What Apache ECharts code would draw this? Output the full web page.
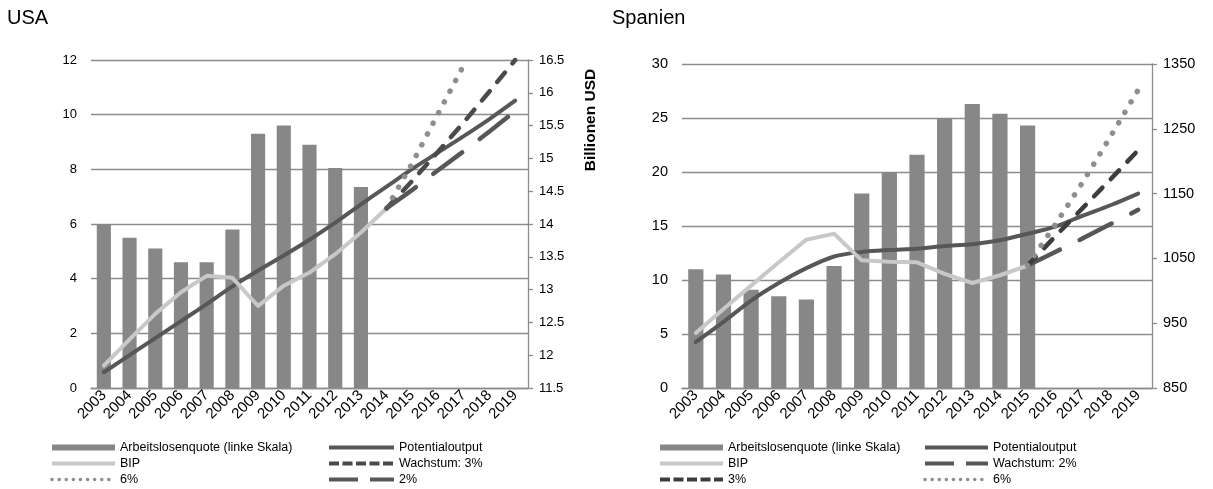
<!DOCTYPE html>
<html>
<head>
<meta charset="utf-8">
<script src="https://cdn.jsdelivr.net/npm/echarts@6/dist/echarts.min.js"></script>
<style>
  html, body { margin: 0; padding: 0; background: #fff; }
  #chart { width: 1213px; height: 489px; }
</style>
</head>
<body>
<div id="chart"></div>
<script>
const years = ['2003', '2004', '2005', '2006', '2007', '2008', '2009', '2010', '2011',
  '2012', '2013', '2014', '2015', '2016', '2017', '2018', '2019'];

// USA – Arbeitslosenquote (%) links, BIP in Billionen USD rechts
const usaArbeitslos = [6.0, 5.5, 5.1, 4.6, 4.6, 5.8, 9.3, 9.6, 8.9, 8.05, 7.35, null, null, null, null, null, null];
const usaPotential = [11.74, 12.0, 12.26, 12.52, 12.78, 13.05, 13.29, 13.52, 13.76, 14.02, 14.3, 14.57, 14.84, 15.09, 15.34, 15.6, 15.88];
const usaBip = [11.84, 12.24, 12.63, 12.96, 13.21, 13.18, 12.75, 13.06, 13.26, 13.54, 13.87, 14.24, null, null, null, null, null];
const usaW3 = [null, null, null, null, null, null, null, null, null, null, null, 14.24, 14.66, 15.1, 15.55, 16.02, 16.5];
const usaW6 = [null, null, null, null, null, null, null, null, null, null, null, 14.24, 14.93, 15.68, 16.42, null, null];
const usaW2 = [null, null, null, null, null, null, null, null, null, null, null, 14.24, 14.52, 14.82, 15.11, 15.41, 15.72];

// Spanien – Arbeitslosenquote (%) links, BIP rechts
const esArbeitslos = [11.0, 10.5, 9.1, 8.5, 8.2, 11.3, 18.0, 20.0, 21.6, 25.0, 26.3, 25.4, 24.3, null, null, null, null];
const esPotential = [921, 952, 985, 1012, 1035, 1053, 1060, 1063, 1065, 1069, 1072, 1078, 1088, 1099, 1116, 1132, 1150];
const esBip = [935, 972, 1008, 1044, 1079, 1088, 1047, 1045, 1044, 1026, 1012, 1024, 1039, null, null, null, null];
const esW2 = [null, null, null, null, null, null, null, null, null, null, null, null, 1039, 1060, 1081, 1103, 1125];
const esW3 = [null, null, null, null, null, null, null, null, null, null, null, null, 1039, 1084, 1128, 1172, 1217];
const esW6 = [null, null, null, null, null, null, null, null, null, null, null, null, 1039, 1102, 1168, 1238, 1310];

const FONT = 'Liberation Sans, Arial, sans-serif';
const GRID_COLOR = '#8c8c8c';
const BAR_COLOR = '#878787';
const POT_COLOR = '#575757';
const BIP_COLOR = '#c8c8c8';
const DASH_COLOR = '#4a4a4a';
const DOT_COLOR = '#8e8e8e';

const chart = echarts.init(document.getElementById('chart'));

function xAxis(gridIndex) {
  return {
    type: 'category', gridIndex, data: years, boundaryGap: true,
    axisLine: { lineStyle: { color: GRID_COLOR, width: 1.3 } },
    axisTick: { show: false },
    axisLabel: { rotate: 45, margin: 5, fontSize: 15, color: '#000', fontFamily: FONT, interval: 0 }
  };
}
function leftAxis(gridIndex, max, interval, fs) {
  return {
    type: 'value', gridIndex, min: 0, max, interval, position: 'left',
    axisLine: { show: false }, axisTick: { show: false },
    splitLine: { lineStyle: { color: GRID_COLOR, width: 1.3 } },
    axisLabel: { margin: 14, fontSize: fs, color: '#000', fontFamily: FONT }
  };
}
function rightAxis(gridIndex, min, max, interval, fs) {
  return {
    type: 'value', gridIndex, min, max, interval, position: 'right',
    axisLine: { show: true, lineStyle: { color: GRID_COLOR, width: 1.3 } },
    axisTick: { show: true, inside: false, length: 5, lineStyle: { color: GRID_COLOR, width: 1.3 } },
    splitLine: { show: false },
    axisLabel: { margin: 11, fontSize: fs, color: '#000', fontFamily: FONT, formatter: v => String(v) }
  };
}
function bars(name, data, idx) {
  return { name, type: 'bar', xAxisIndex: idx, yAxisIndex: idx * 2, data, barCategoryGap: '45%',
    itemStyle: { color: BAR_COLOR } };
}
function line(name, data, idx, color, width, type, smooth) {
  return { name, type: 'line', xAxisIndex: idx, yAxisIndex: idx * 2 + 1, data, symbol: 'none', smooth: smooth || false,
    itemStyle: { color },
    lineStyle: { color, width, type: type || 'solid', cap: 'round', join: 'round' } };
}

// legend entries for lines: hide the default marker circle, keep a thick stroke
function lineItem(name, lineStyle) {
  return { name, itemStyle: { opacity: 0 }, lineStyle: Object.assign({ width: 4, cap: 'butt' }, lineStyle || {}) };
}
const legendBase = {
  orient: 'vertical', padding: 0, itemGap: 1, itemHeight: 6, selectedMode: false,
  textStyle: { fontSize: 12.5, color: '#000', fontFamily: FONT, lineHeight: 15 }
};
const dotLegend = { type: [0.1, 7], cap: 'round', width: 3.5 };
const dashLegend = { type: [10, 3.5], cap: 'butt', width: 4 };
const longLegend = { type: [29, 12], cap: 'butt', width: 4 };
const barItem = { name: 'Arbeitslosenquote (linke Skala)', icon: 'rect' };

const option = {
  animation: false,
  backgroundColor: '#fff',
  title: [
    { text: 'USA', left: 7, top: 8, padding: 0, textStyle: { fontSize: 20, fontWeight: 'normal', color: '#000', fontFamily: FONT } },
    { text: 'Spanien', left: 612, top: 8, padding: 0, textStyle: { fontSize: 20, fontWeight: 'normal', color: '#000', fontFamily: FONT } }
  ],
  grid: [
    { left: 91, top: 60, width: 437, height: 328 },
    { left: 682, top: 64, width: 470, height: 324 }
  ],
  xAxis: [xAxis(0), xAxis(1)],
  yAxis: [
    leftAxis(0, 12, 2, 13), rightAxis(0, 11.5, 16.5, 0.5, 13),
    leftAxis(1, 30, 5, 14.5), rightAxis(1, 850, 1350, 100, 14.5)
  ],
  legend: [
    Object.assign({}, legendBase, { left: 50, top: 440, itemWidth: 63,
      data: [barItem, lineItem('BIP'), lineItem('6%', dotLegend)] }),
    Object.assign({}, legendBase, { left: 327, top: 440, itemWidth: 65,
      data: [lineItem('Potentialoutput'), lineItem('Wachstum: 3%', dashLegend), lineItem('2%', longLegend)] }),
    Object.assign({}, legendBase, { left: 658, top: 440, itemWidth: 63,
      data: [barItem, lineItem('BIP'), lineItem('3%', dashLegend)] }),
    Object.assign({}, legendBase, { left: 923, top: 440, itemWidth: 63,
      data: [lineItem('Potentialoutput'), lineItem('Wachstum: 2%', longLegend), lineItem('6%', dotLegend)] })
  ],
  graphic: [{
    type: 'text', x: 591, y: 120, rotation: Math.PI / 2,
    style: { text: 'Billionen USD', font: 'bold 15.5px ' + FONT, fill: '#000', align: 'center', verticalAlign: 'middle' }
  }],
  series: [
    bars('Arbeitslosenquote (linke Skala)', usaArbeitslos, 0),
    line('Potentialoutput', usaPotential, 0, POT_COLOR, 4, 'solid', 0.3),
    line('BIP', usaBip, 0, BIP_COLOR, 4),
    line('Wachstum: 3%', usaW3, 0, DASH_COLOR, 4.5, [12, 12]),
    line('6%', usaW6, 0, DOT_COLOR, 5.5, [0.1, 12]),
    line('2%', usaW2, 0, POT_COLOR, 4.5, [36, 22]),

    bars('Arbeitslosenquote (linke Skala)', esArbeitslos, 1),
    line('Potentialoutput', esPotential, 1, POT_COLOR, 4, 'solid', 0.3),
    line('BIP', esBip, 1, BIP_COLOR, 4),
    line('Wachstum: 2%', esW2, 1, POT_COLOR, 4.5, [36, 22]),
    line('3%', esW3, 1, '#3d3d3d', 4.5, [12, 12]),
    line('6%', esW6, 1, DOT_COLOR, 5.5, [0.1, 12])
  ]
};
chart.setOption(option);
</script>
</body>
</html>
